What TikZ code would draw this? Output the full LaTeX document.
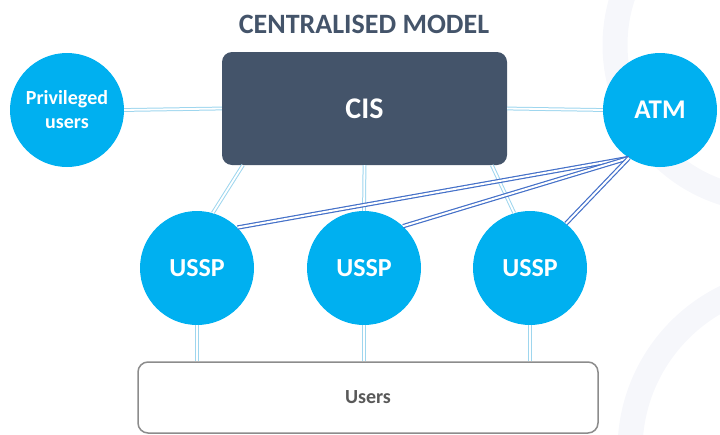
\documentclass[tikz,border=0pt]{standalone}
\usepackage{fontspec}
\setmainfont{Carlito}
\usetikzlibrary{calc}
\definecolor{skyblue}{HTML}{00B0F0}
\definecolor{slate}{HTML}{44546A}
\definecolor{paleblue}{HTML}{9ED6EE}
\definecolor{linkblue}{HTML}{4470C8}
\definecolor{boxgray}{HTML}{8C8C8C}
\definecolor{textgray}{HTML}{595959}
\definecolor{wmark}{HTML}{F6F7FB}

\begin{document}
\begin{tikzpicture}[x=1pt,y=-1pt,
  party/.style={circle,fill=skyblue,text=white,font=\bfseries,minimum size=114pt,inner sep=0pt,align=center},
  softlink/.style={draw=paleblue,double=white,line width=1pt,double distance=1.8pt},
  atmlink/.style={draw=linkblue,double=white,line width=1.2pt,double distance=2pt}]
\useasboundingbox (0,0) rectangle (720,434);
\clip (0,0) rectangle (720,434);
% faint background arcs
\draw [wmark,line width=25pt] (770,45) circle (155);
\draw [wmark,line width=25pt] (800,450) circle (170);

\node [text=slate,font=\bfseries\fontsize{28}{30}\selectfont] (title) at (364,24) {CENTRALISED MODEL};
\node [rectangle,rounded corners=10pt,fill=slate,text=white,font=\bfseries\fontsize{30}{32}\selectfont,
  minimum width=285pt,minimum height=113pt] (cis) at (364.5,108.5) {CIS};
\node [party,font=\bfseries\fontsize{20}{24}\selectfont] (priv) at (67,110) {Privileged\\users};
\node [party,font=\bfseries\fontsize{27}{29}\selectfont] (atm) at (660,110) {ATM};
\node [party,font=\bfseries\fontsize{26}{28}\selectfont] (ussp1) at (197,268) {USSP};
\node [party,font=\bfseries\fontsize{26}{28}\selectfont] (ussp2) at (364,268) {USSP};
\node [party,font=\bfseries\fontsize{26}{28}\selectfont] (ussp3) at (530,268) {USSP};
\node [rectangle,rounded corners=10pt,draw=boxgray,line width=1.5pt,fill=white,text=textgray,
  font=\bfseries\fontsize{20}{22}\selectfont,minimum width=460pt,minimum height=71pt] (users) at (368,397.5) {Users};

% light links
\draw [softlink] (priv.east) -- (cis.west);
\draw [softlink] (cis.east) -- (atm.west);
\draw [softlink] (cis.-155) -- (ussp1.74);
\draw [softlink] (cis.south) -- (ussp2.north);
\draw [softlink] (cis.-24) -- (ussp3.106);
\draw [softlink] (ussp1.south) -- (ussp1.south |- users.north);
\draw [softlink] (ussp2.south) -- (ussp2.south |- users.north);
\draw [softlink] (ussp3.south) -- (ussp3.south |- users.north);
% ATM links
\draw [atmlink] (atm.-123) -- (ussp1.45);
\draw [atmlink] (atm.-123) -- (ussp2.47);
\draw [atmlink] (atm.-123) -- (ussp3.51);
\end{tikzpicture}
\end{document}
